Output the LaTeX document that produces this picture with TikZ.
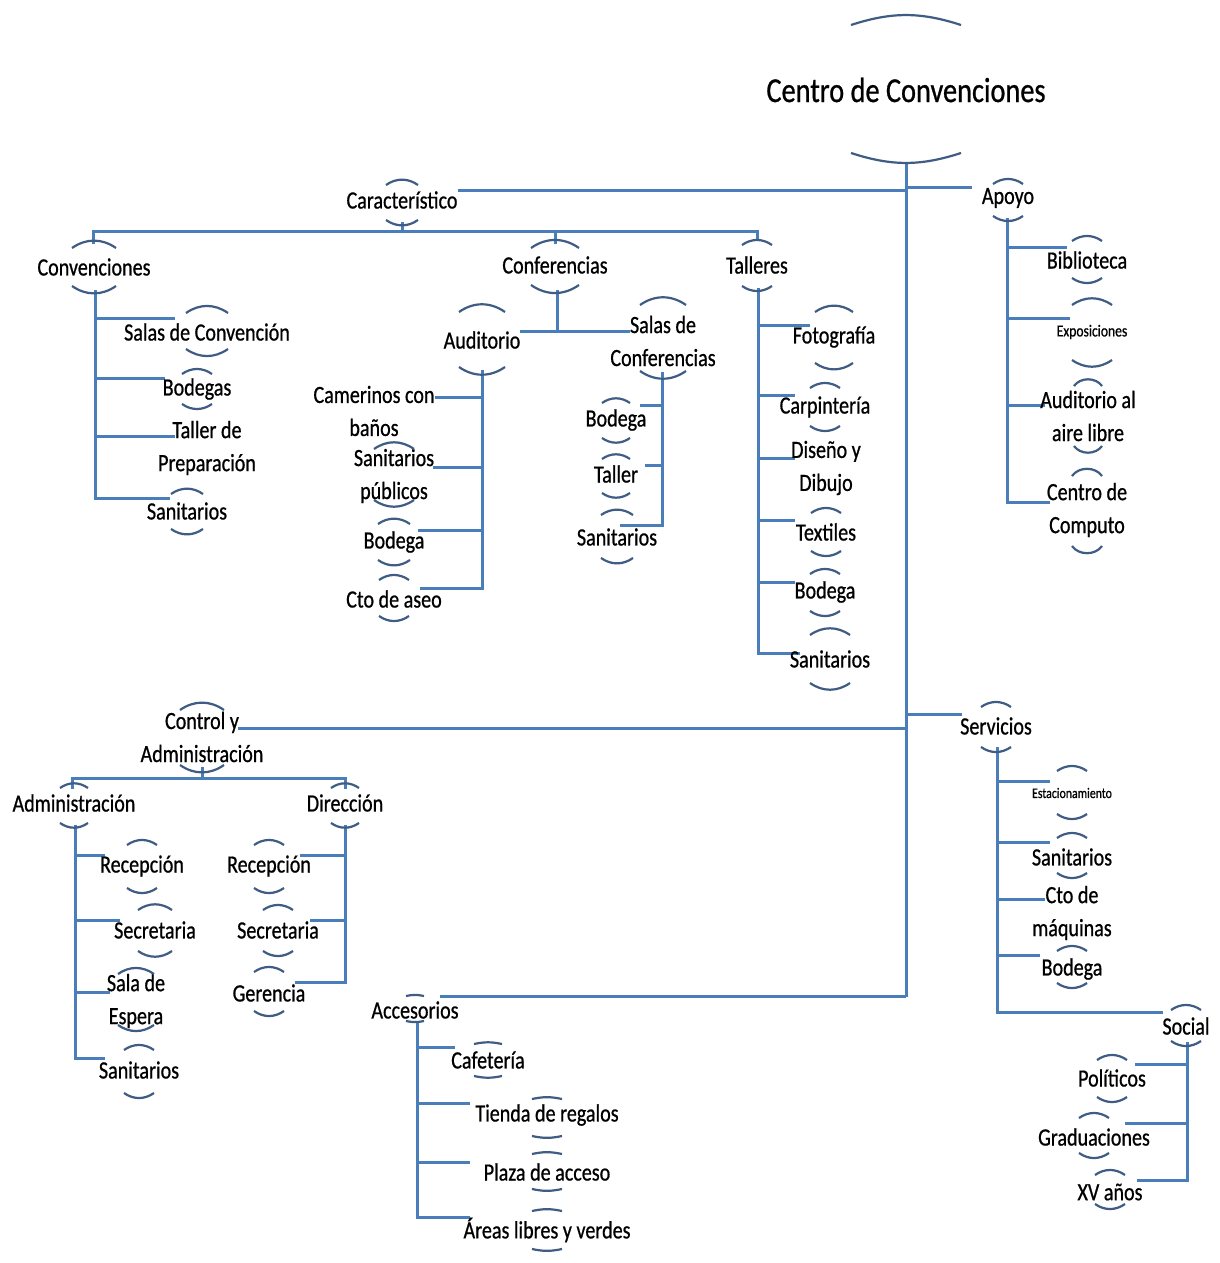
\documentclass[tikz,border=0pt]{standalone}
\usepackage{fontspec}
\setmainfont[FakeStretch=0.81,FakeBold=0.7]{Carlito}
\definecolor{lnc}{RGB}{74,126,187}
\definecolor{arcc}{RGB}{62,92,132}
\def\arcb{35}
\newcommand\lbl[8][]{%
  \node[lab,#1] (#2) at (#3,#4) {#5};
  \draw[arcst] ([shift={(-#6,#7)}]#2.center) to[bend left=\arcb] ([shift={(#6,#7)}]#2.center);
  \draw[arcst] ([shift={(-#6,#8)}]#2.center) to[bend right=\arcb] ([shift={(#6,#8)}]#2.center);}
\newcommand\plainlbl[4]{\node[lab] (#1) at (#2,#3) {#4};}
\begin{document}
\begin{tikzpicture}[x=0.5pt,y=-0.5pt,
  ln/.style={lnc, line width=1.5pt},
  arcst/.style={arcc, line width=1.1pt},
  lab/.style={inner sep=0pt, align=center, font=\fontsize{12.4}{16.5}\selectfont}]
\useasboundingbox (0,0) rectangle (1220,1263);
\fill[white] (0,0) rectangle (1220,1263);

% ---------- connectors ----------
\coordinate (rootb) at (906,163);
\coordinate (trunkend) at (906,997);
\draw[ln] (rootb) -- (trunkend);
\draw[ln] (458,190) -- (906,190);
\draw[ln] (906,187) -- (972,187);
\draw[ln] (402,222) -- (402,231);
\draw[ln] (93,244) -- (93,231) -- (757,231) -- (757,241);
\draw[ln] (555,231) -- (555,244);
% Convenciones
\draw[ln] (95,290) -- (95,498) -- (170,498);
\draw[ln] (95,318) -- (175,318);
\draw[ln] (95,378) -- (165,378);
\draw[ln] (95,436) -- (175,436);
% Conferencias
\draw[ln] (557,290) -- (557,331);
\draw[ln] (520,331) -- (630,331);
% Auditorio
\draw[ln] (482,370) -- (482,588) -- (420,588);
\draw[ln] (482,397) -- (435,397);
\draw[ln] (482,467) -- (433,467);
\draw[ln] (482,530) -- (418,530);
% Salas de Conferencias
\draw[ln] (662,372) -- (662,525) -- (620,525);
\draw[ln] (662,405) -- (640,405);
\draw[ln] (662,465) -- (645,465);
% Talleres
\draw[ln] (758,288) -- (758,653) -- (800,653);
\draw[ln] (758,325) -- (810,325);
\draw[ln] (758,395) -- (795,395);
\draw[ln] (758,458) -- (795,458);
\draw[ln] (758,520) -- (795,520);
\draw[ln] (758,582) -- (795,582);
% Apoyo
\draw[ln] (1007,218) -- (1007,502) -- (1050,502);
\draw[ln] (1007,247) -- (1067,247);
\draw[ln] (1007,318) -- (1070,318);
\draw[ln] (1007,405) -- (1045,405);
% Servicios and Control
\draw[ln] (906,714) -- (962,714);
\draw[ln] (238,728) -- (906,728);
\draw[ln] (202,767) -- (202,778);
\draw[ln] (72,789) -- (72,778) -- (345,778) -- (345,789);
% Administracion
\draw[ln] (75,825) -- (75,1058) -- (105,1058);
\draw[ln] (75,855) -- (105,855);
\draw[ln] (75,920) -- (120,920);
\draw[ln] (75,992) -- (110,992);
% Direccion
\draw[ln] (345,825) -- (345,982) -- (295,982);
\draw[ln] (345,855) -- (300,855);
\draw[ln] (345,920) -- (310,920);
% Accesorios
\draw[ln] (440,996) -- (906,996);
\draw[ln] (417,1022) -- (417,1217) -- (470,1217);
\draw[ln] (417,1047) -- (455,1047);
\draw[ln] (417,1103) -- (470,1103);
\draw[ln] (417,1162) -- (470,1162);
% Servicios
\draw[ln] (997,747) -- (997,1012) -- (1163,1012);
\draw[ln] (997,781) -- (1050,781);
\draw[ln] (997,842) -- (1050,842);
\draw[ln] (997,899) -- (1045,899);
\draw[ln] (997,955) -- (1040,955);
% Social
\draw[ln] (1187,1042) -- (1187,1180) -- (1137,1180);
\draw[ln] (1187,1064) -- (1135,1064);
\draw[ln] (1187,1123) -- (1125,1123);

% ---------- nodes ----------
\node[lab, font=\fontsize{17.5}{21}\selectfont] (root) at (906,90) {Centro de Convenciones};
\draw[arcst] ([shift={(-55,-65)}]root.center) to[bend left=18] ([shift={(55,-65)}]root.center);
\draw[arcst] ([shift={(-55,63)}]root.center) to[bend right=18] ([shift={(55,63)}]root.center);

\lbl{caract}{402}{200}{Característico}{16}{-15}{20}
\lbl{apoyo}{1008}{198}{Apoyo}{15}{-14}{18}
\lbl{conv}{94}{267}{Convenciones}{22}{-19}{19}
\lbl{confer}{555}{265}{Conferencias}{24}{-17}{20}
\lbl{talleres}{757}{265}{Talleres}{15}{-20}{21}
\lbl{salasconv}{207}{332}{Salas de Convención}{21}{-19}{17}
\lbl{bodegas}{197}{389}{Bodegas}{15}{-15}{15}
\plainlbl{tallerprep}{207}{448}{Taller de\\Preparación}
\lbl{sanC}{187}{511}{Sanitarios}{16}{-17}{18}
\lbl{audit}{482}{340}{Auditorio}{23}{-28}{27}
\plainlbl{camer}{374}{411}{Camerinos con\\baños}
\lbl{sanpub}{394}{476}{Sanitarios\\públicos}{20}{-27}{24}
\lbl{bodA}{394}{542}{Bodega}{16}{-18}{18}
\lbl{aseo}{394}{599}{Cto de aseo}{15}{-19}{17}
\lbl{salasconf}{663}{341}{Salas de\\Conferencias}{23}{-36}{30}
\lbl{bodB}{616}{420}{Bodega}{14}{-17}{18}
\lbl{tallerB}{616}{474}{Taller}{14}{-15}{19}
\lbl{sanB}{617}{537}{Sanitarios}{16}{-22}{21}
\lbl{foto}{834}{337}{Fotografía}{19}{-25}{26}
\lbl{carp}{825}{407}{Carpintería}{15}{-19}{19}
\plainlbl{diseno}{826}{468}{Diseño y\\Dibujo}
\lbl{textil}{826}{532}{Textiles}{15}{-19}{19}
\lbl{bodT}{825}{592}{Bodega}{15}{-18}{19}
\lbl{sanT}{830}{659}{Sanitarios}{20}{-24}{24}
\lbl{biblio}{1087}{260}{Biblioteca}{15}{-19}{18}
\lbl[font=\fontsize{8.4}{10}\selectfont]{expo}{1092}{332}{Exposiciones}{20}{-27}{28}
\def\arcb{55}
\lbl{audlib}{1088}{416}{Auditorio al\\aire libre}{14}{-30}{30}
\lbl{compu}{1087}{510}{Centro de\\Computo}{15}{-34}{36}
\def\arcb{35}
\lbl{control}{202}{737}{Control y\\Administración}{22}{-27}{28}
\lbl{admin}{74}{803}{Administración}{14}{-15}{20}
\lbl{direc}{345}{803}{Dirección}{14}{-15}{20}
\lbl{recA}{142}{866}{Recepción}{15}{-21}{22}
\lbl{secA}{155}{930}{Secretaria}{17}{-20}{21}
\lbl{salaesp}{136}{1001}{Sala de\\Espera}{18}{-27}{24}
\lbl{sanA}{139}{1070}{Sanitarios}{15}{-20}{23}
\lbl{recD}{269}{866}{Recepción}{15}{-21}{22}
\lbl{secD}{278}{930}{Secretaria}{15}{-20}{21}
\lbl{geren}{269}{993}{Gerencia}{15}{-21}{18}
\lbl{serv}{996}{726}{Servicios}{15}{-19}{21}
\lbl[font=\fontsize{7.3}{9}\selectfont]{estac}{1072}{793}{Estacionamiento}{15}{-22}{21}
\lbl{sanS}{1072}{857}{Sanitarios}{15}{-19}{16}
\plainlbl{ctomaq}{1072}{913}{Cto de\\máquinas}
\lbl{bodS}{1072}{969}{Bodega}{15}{-18}{14}
\lbl{social}{1186}{1026}{Social}{15}{-16}{15}
\lbl{polit}{1112}{1078}{Políticos}{15}{-18}{19}
\lbl{gradu}{1094}{1137}{Graduaciones}{15}{-19}{16}
\lbl{xv}{1110}{1192}{XV años}{15}{-17}{12}
\def\arcb{12}
\lbl{acces}{415}{1010}{Accesorios}{9}{-14}{11}
\lbl{cafe}{488}{1060}{Cafetería}{14}{-16}{16}
\lbl{tienda}{547}{1115}{Tienda de regalos}{15}{-16}{21}
\lbl{plaza}{547}{1172}{Plaza de acceso}{15}{-18}{17}
\lbl{areas}{547}{1230}{Áreas libres y verdes}{15}{-19}{19}
\end{tikzpicture}
\end{document}
